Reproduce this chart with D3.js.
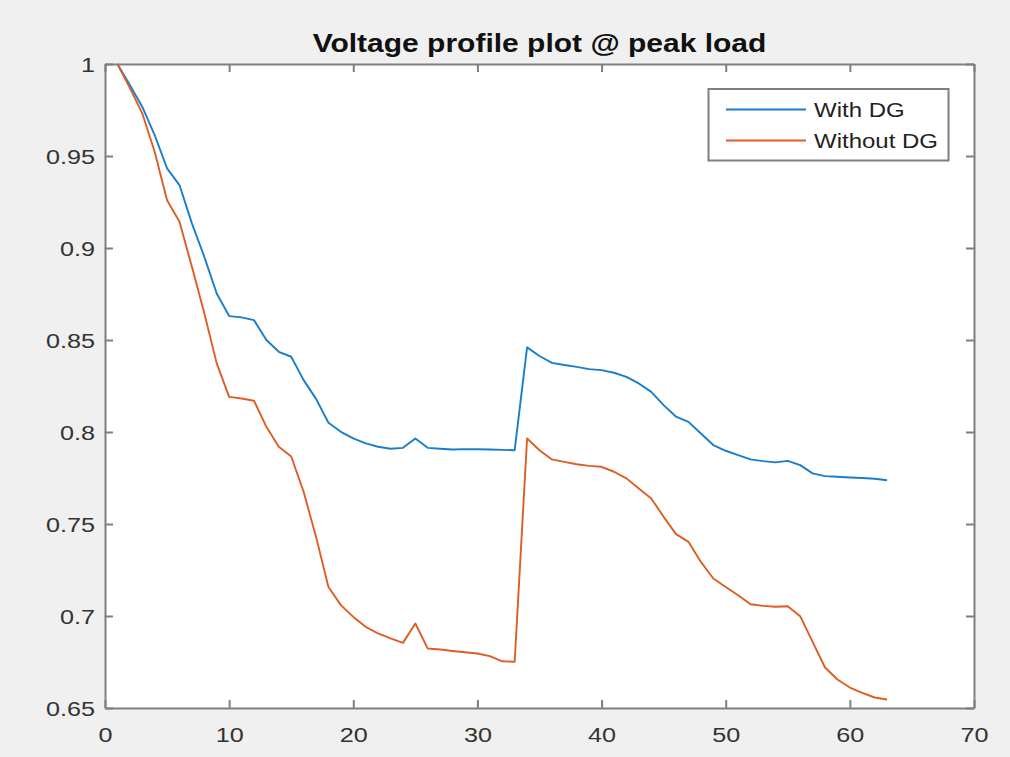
<!DOCTYPE html>
<html>
<head>
<meta charset="utf-8">
<script src="https://cdn.jsdelivr.net/npm/d3@7"></script>
<style>
  html, body { margin: 0; padding: 0; background: #f0f0f0; }
  svg { display: block; font-family: Arial, "Liberation Sans", sans-serif; }
</style>
</head>
<body>
<svg id="chart" width="1010" height="757"></svg>
<script>
const title = 'Voltage profile plot @ peak load';
const bus = d3.range(1, 64);
const withDG = [
  1.0, 0.9886, 0.9768, 0.9614, 0.9433, 0.9342, 0.9134, 0.8952, 0.8753, 0.863,
  0.8623, 0.8608, 0.85, 0.8436, 0.8409, 0.8282, 0.818, 0.805, 0.8001, 0.7965,
  0.7938, 0.792, 0.7909, 0.7914, 0.7965, 0.7914, 0.7909, 0.7905, 0.7907, 0.7906,
  0.7905, 0.7903, 0.7901, 0.846, 0.8413, 0.8376, 0.8364, 0.8354, 0.8342, 0.8336,
  0.8322, 0.83, 0.8264, 0.8218, 0.8146, 0.8083, 0.8055, 0.7992, 0.7929, 0.7898,
  0.7874, 0.7851, 0.7842, 0.7835, 0.7843, 0.782, 0.7775, 0.776, 0.7757, 0.7753,
  0.775, 0.7746, 0.7738
];
const withoutDG = [
  1.0, 0.987, 0.9732, 0.9523, 0.926, 0.9143, 0.8898, 0.8645, 0.8373, 0.8191,
  0.8182, 0.817, 0.8028, 0.792, 0.7867, 0.7675, 0.743, 0.7158, 0.7059, 0.6995,
  0.6941, 0.6905, 0.6878, 0.6854, 0.6959, 0.6823, 0.6818, 0.681, 0.6803, 0.6796,
  0.6782, 0.6754, 0.6751, 0.7965, 0.7901, 0.7851, 0.7838, 0.7825, 0.7816, 0.7811,
  0.7784, 0.7748, 0.7693, 0.7639, 0.7539, 0.7445, 0.7403, 0.7294, 0.7204, 0.7158,
  0.7113, 0.7064, 0.7055, 0.705, 0.7053, 0.6999, 0.6859, 0.672, 0.6655, 0.6611,
  0.6582, 0.6557, 0.6546
];
const seriesNames = ['With DG', 'Without DG'];
const seriesColors = ['#1a7dc9', '#de5d24'];
const xTicks = [0, 10, 20, 30, 40, 50, 60, 70];
const yTicks = [0.65, 0.7, 0.75, 0.8, 0.85, 0.9, 0.95, 1];

var svg = d3.select('#chart');
var m = { left: 105, right: 974, top: 64, bottom: 708 };
var sx = 1.2; // text in the picture is stretched sideways

var x = d3.scaleLinear().domain([0, 70]).range([m.left, m.right]);
var y = d3.scaleLinear().domain([0.65, 1]).range([m.bottom, m.top]);

svg.append('rect')
  .attr('x', m.left).attr('y', m.top)
  .attr('width', m.right - m.left).attr('height', m.bottom - m.top)
  .attr('fill', '#fff');

// lines
var line = d3.line().x((d, i) => x(bus[i])).y(d => y(d));
[withDG, withoutDG].forEach((s, k) => {
  svg.append('path')
    .datum(s)
    .attr('d', line)
    .attr('fill', 'none')
    .attr('stroke', seriesColors[k])
    .attr('stroke-width', 1.9)
    .attr('stroke-linejoin', 'round');
});

// axes with inward ticks on all four sides
function styleAxis (g) {
  g.select('.domain').attr('stroke', '#7f7f7f').attr('stroke-width', 2);
  g.selectAll('.tick line').attr('stroke', '#7f7f7f').attr('stroke-width', 2);
}

svg.append('g')
  .attr('transform', `translate(0,${m.bottom})`)
  .call(d3.axisBottom(x).tickValues(xTicks).tickSize(-8).tickSizeOuter(0).tickFormat(d3.format('d')))
  .call(styleAxis)
  .call(g => g.selectAll('.tick text')
    .attr('y', null).attr('dy', null)
    .attr('transform', 'translate(0,34) scale(' + sx + ',1)')
    .attr('font-size', 21).attr('fill', '#333'));

svg.append('g')
  .attr('transform', `translate(0,${m.top})`)
  .call(d3.axisTop(x).tickValues(xTicks).tickSize(-8).tickSizeOuter(0).tickFormat(''))
  .call(styleAxis);

svg.append('g')
  .attr('transform', `translate(${m.left},0)`)
  .call(d3.axisLeft(y).tickValues(yTicks).tickSize(-8).tickSizeOuter(0).tickFormat(d3.format('~g')))
  .call(styleAxis)
  .call(g => g.selectAll('.tick text')
    .attr('x', null).attr('dy', null)
    .attr('transform', 'translate(-10,7.5) scale(' + sx + ',1)')
    .attr('font-size', 21).attr('fill', '#333'));

svg.append('g')
  .attr('transform', `translate(${m.right},0)`)
  .call(d3.axisRight(y).tickValues(yTicks).tickSize(-8).tickSizeOuter(0).tickFormat(''))
  .call(styleAxis);

// title
svg.append('text')
  .attr('transform', `translate(${(m.left + m.right) / 2},52) scale(${sx},1)`)
  .attr('text-anchor', 'middle')
  .attr('font-size', 25)
  .attr('font-weight', 'bold')
  .attr('fill', '#111')
  .text(title);

// legend
var lg = svg.append('g');
lg.append('rect')
  .attr('x', 708.5).attr('y', 89)
  .attr('width', 240).attr('height', 71.5)
  .attr('fill', '#fff')
  .attr('stroke', '#7f7f7f')
  .attr('stroke-width', 2);

seriesNames.forEach((name, k) => {
  var ly = 109.5 + k * 31;
  lg.append('line')
    .attr('x1', 726).attr('x2', 806)
    .attr('y1', ly).attr('y2', ly)
    .attr('stroke', seriesColors[k])
    .attr('stroke-width', 1.9);
  lg.append('text')
    .attr('transform', `translate(814,${ly + 7.5}) scale(${sx},1)`)
    .attr('font-size', 20)
    .attr('fill', '#222')
    .text(name);
});
</script>
</body>
</html>
